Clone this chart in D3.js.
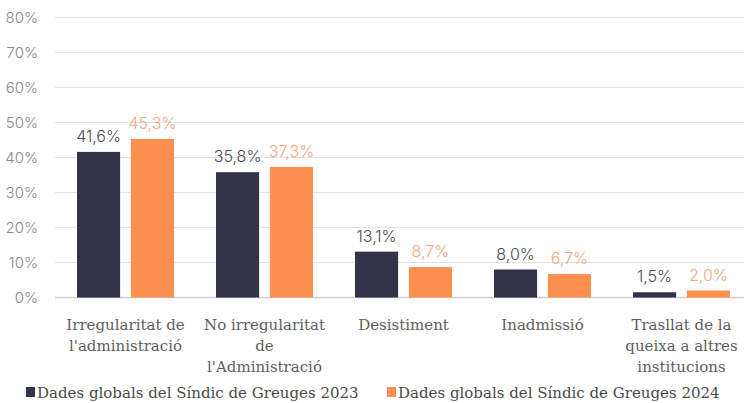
<!DOCTYPE html>
<html>
<head>
<meta charset="utf-8">
<script src="https://cdn.jsdelivr.net/npm/d3@7"></script>
<style>
  body { margin: 0; background: #fff; }
  svg { display: block; }
</style>
</head>
<body>
<script>
// categories and series (percent values)
const categories = [
  ["Irregularitat de", "l'administració"],
  ["No irregularitat", "de", "l'Administració"],
  ["Desistiment"],
  ["Inadmissió"],
  ["Trasllat de la", "queixa a altres", "institucions"]
];
const seriesNames = ["Dades globals del Síndic de Greuges 2023", "Dades globals del Síndic de Greuges 2024"];
const values2023 = [41.6, 35.8, 13.1, 8.0, 1.5];
const values2024 = [45.3, 37.3, 8.7, 6.7, 2.0];
const yTicks = [0, 10, 20, 30, 40, 50, 60, 70, 80];

const width = 744, height = 403;
const colors = ["#323349", "#fd8f4f"];
const labelColors = ["#4b4b57", "#f5a67c"];

const svg = d3.select("body").append("svg")
  .attr("width", width)
  .attr("height", height);

const catIdx = categories.map((d, i) => i);
const x0 = d3.scaleBand().domain(catIdx).range([56, 751]);
const x1 = d3.scaleBand().domain([0, 1]).range([21, 118]).paddingInner(0.2);
const y = d3.scaleLinear().domain([0, 80]).range([297.5, 17.5]);

// gridlines
svg.append("g").selectAll("line")
  .data(yTicks)
  .enter().append("line")
  .attr("x1", 55).attr("x2", 744)
  .attr("y1", d => y(d)).attr("y2", d => y(d))
  .attr("stroke", d => d === 0 ? "#cfcfcf" : "#e2e2e2")
  .attr("stroke-width", d => d === 0 ? 1.5 : 1);

// y axis labels
svg.append("g").selectAll("text")
  .data(yTicks)
  .enter().append("text")
  .attr("x", 38)
  .attr("y", d => y(d))
  .attr("dy", "0.35em")
  .attr("text-anchor", "end")
  .attr("font-family", "Inter, Roboto, sans-serif")
  .attr("font-weight", 300)
  .attr("font-size", 15)
  .attr("fill", "#8a8a8a")
  .text(d => d + "%");

const series = [values2023, values2024];
const fmt = v => v.toFixed(1).replace(".", ",") + "%";

series.forEach((vals, s) => {
  const g = svg.append("g");
  g.selectAll("rect")
    .data(vals)
    .enter().append("rect")
    .attr("x", (d, i) => x0(i) + x1(s))
    .attr("width", x1.bandwidth())
    .attr("y", d => y(d))
    .attr("height", d => y(0) - y(d))
    .attr("fill", colors[s]);

  g.selectAll("text")
    .data(vals)
    .enter().append("text")
    .attr("x", (d, i) => x0(i) + x1(s) + x1.bandwidth() / 2)
    .attr("y", d => y(d) - 10)
    .attr("text-anchor", "middle")
    .attr("font-family", "Inter, Roboto, sans-serif")
    .attr("font-weight", 300)
    .attr("font-size", 16)
    .attr("fill", labelColors[s])
    .text(fmt);
});

// category labels
const catG = svg.append("g").selectAll("text")
  .data(categories)
  .enter().append("text")
  .attr("x", (d, i) => x0(i) + x0.bandwidth() / 2)
  .attr("y", 330)
  .attr("text-anchor", "middle")
  .attr("font-family", "'DejaVu Serif', serif")
  .attr("font-size", 15)
  .attr("fill", "#5e5e5e");

catG.selectAll("tspan")
  .data(d => d)
  .enter().append("tspan")
  .attr("x", function() { return this.parentNode.getAttribute("x"); })
  .attr("dy", (d, i) => i === 0 ? 0 : 21)
  .text(d => d);

// legend
const legendX = [26, 387];
const legend = svg.append("g").selectAll("g")
  .data(seriesNames)
  .enter().append("g")
  .attr("transform", (d, i) => "translate(" + legendX[i] + ",387)");

legend.append("rect")
  .attr("width", 9).attr("height", 10)
  .attr("fill", (d, i) => colors[i]);

legend.append("text")
  .attr("x", 11)
  .attr("y", 11)
  .attr("font-family", "'DejaVu Serif', serif")
  .attr("font-size", 15)
  .attr("fill", "#4a4a4a")
  .text(d => d);
</script>
</body>
</html>
